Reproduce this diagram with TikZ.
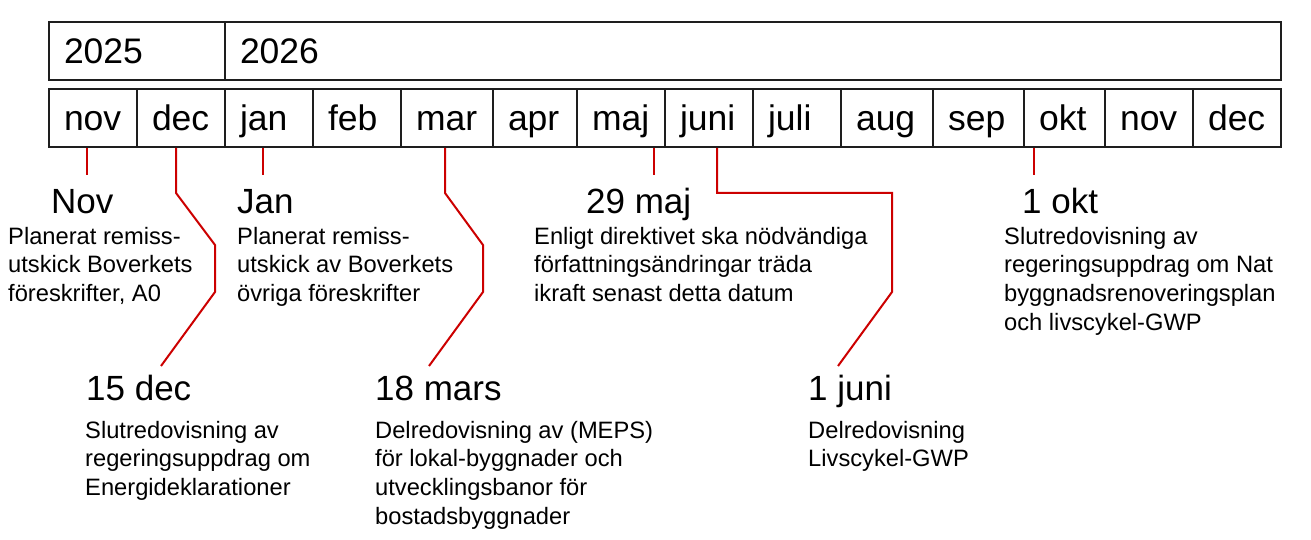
\documentclass[tikz,border=0pt]{standalone}
\usepackage{fontspec}
\setmainfont{Liberation Sans}
\definecolor{tlred}{RGB}{204,0,0}
\definecolor{boxline}{RGB}{30,30,30}
\begin{document}
\begin{tikzpicture}[x=1pt,y=-1pt,
  cellbox/.style={draw=boxline, line width=2pt, anchor=north west, minimum height=58pt,
    inner xsep=15pt, inner ysep=0pt, align=left, text height=26pt, text depth=0pt,
    font=\fontsize{35.5}{40}\selectfont},
  headtext/.style={anchor=base west, inner sep=0pt, font=\fontsize{35}{40}\selectfont},
  bodytext/.style={anchor=base west, inner sep=0pt, align=left, font=\fontsize{23.7}{28.8}\selectfont},
  redline/.style={draw=tlred, line width=2pt}]
\useasboundingbox (0,0) rectangle (1311,540);

% year row
\node[cellbox, text width=146pt] (y1) at (48,21) {2025};
\node[cellbox, text width=1026pt] (y2) at (224,21) {2026};

% month row
\foreach \i/\a/\b/\t in {1/48/136/nov,2/136/224/dec,3/224/312/jan,4/312/400/feb,
  5/400/492/mar,6/492/576/apr,7/576/664/maj,8/664/752/juni,9/752/840/juli,
  10/840/932/aug,11/932/1023/sep,12/1023/1104/okt,13/1104/1192/nov,14/1192/1280/dec}{
  \pgfmathsetmacro\w{\b-\a-30}
  \node[cellbox, text width=\w pt] (m\i) at (\a,88) {\t};
}

% headings
\node[headtext] (hnov) at (51,213) {Nov};
\node[headtext] (hjan) at (237,213) {Jan};
\node[headtext] (hmaj) at (586,213) {29 maj};
\node[headtext] (hokt) at (1022,213) {1 okt};
\node[headtext] (hdec) at (86,400) {15 dec};
\node[headtext] (hmar) at (375,400) {18 mars};
\node[headtext] (hjun) at (808,400) {1 juni};

% bodies (anchored at the baseline of their last line)
\node[bodytext] (bnov) at (8,301.6) {Planerat remiss-\\utskick Boverkets\\föreskrifter, A0};
\node[bodytext] (bjan) at (237,301.6) {Planerat remiss-\\utskick av Boverkets\\övriga föreskrifter};
\node[bodytext] (bmaj) at (534,301.6) {Enligt direktivet ska nödvändiga\\författningsändringar träda\\ikraft senast detta datum};
\node[bodytext] (bokt) at (1004,330.4) {Slutredovisning av\\regeringsuppdrag om Nat\\byggnadsrenoveringsplan\\och livscykel-GWP};
\node[bodytext] (bdec) at (85,495.6) {Slutredovisning av\\regeringsuppdrag om\\Energideklarationer};
\node[bodytext] (bmar) at (375,524.4) {Delredovisning av (MEPS)\\för lokal-byggnader och\\utvecklingsbanor för\\bostadsbyggnader};
\node[bodytext] (bjun) at (808,466.8) {Delredovisning\\Livscykel-GWP};

% connector coordinates
\coordinate (cnov) at (87,175);
\coordinate (cjan) at (263,175);
\coordinate (cmaj) at (654,175);
\coordinate (cokt) at (1034,175);
\coordinate (cdec) at (161,366);
\coordinate (cmar) at (429,366);
\coordinate (cjun) at (838,366);

\draw[redline] (m1.south -| cnov) -- (cnov);
\draw[redline] (m3.south -| cjan) -- (cjan);
\draw[redline] (m7.south -| cmaj) -- (cmaj);
\draw[redline] (m12.south -| cokt) -- (cokt);
\draw[redline] (m2.south -| 176,0) -- (176,193) -- (215,245) -- (215,292) -- (cdec);
\draw[redline] (m5.south -| 445,0) -- (445,193) -- (483,245) -- (483,292) -- (cmar);
\draw[redline] (m8.south -| 717,0) -- (717,193) -- (892,193) -- (892,292) -- (cjun);
\end{tikzpicture}
\end{document}
